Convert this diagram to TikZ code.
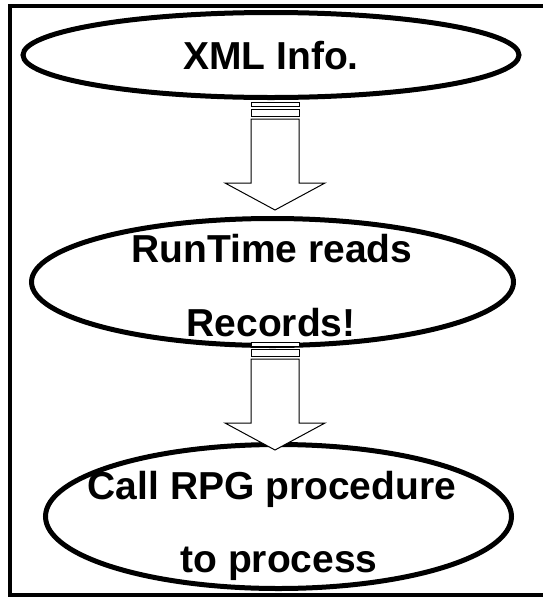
\documentclass[tikz,border=0pt]{standalone}
\usepackage{fontspec}
\setmainfont{Liberation Sans}
\usetikzlibrary{
  shapes.geometric,%
  positioning,%
  calc
}
\tikzset{>=latex}
\tikzset{
  proc/.style={draw, ellipse, line width=5pt, inner sep=0pt},
  lbl/.style={anchor=base, inner sep=0pt,
    font=\fontsize{39}{47}\selectfont\bfseries},
  blockarrow/.style={draw, fill=white, line width=1pt, line join=miter},
}

\begin{document}
\begin{tikzpicture}[x=1pt, y=-1pt]
    \useasboundingbox (0,0) rectangle (542,598);
    % frame, open on the right
    \draw[line width=4pt] (560,6) -- (10,6) -- (10,594.5) -- (560,594.5);
    \node[proc, minimum width=496pt, minimum height=85pt] (xml) at (271,55) {};
    \node[proc, minimum width=482pt, minimum height=127pt] (run) at (272.5,282) {};
    \node[proc, minimum width=466pt, minimum height=144pt] (call) at (278.5,516.5) {};
    \node[lbl] (xmlA) at (271,69) {XML Info.};
    \node[lbl] (runA) at (272,262) {RunTime reads};
    \node[lbl] (runB) at (271,336) {Records!};
    \node[lbl] (callA) at (272,499) {Call RPG procedure};
    \node[lbl] (callB) at (279,572) {to process};
    \coordinate (arrA) at (275,102);
    \coordinate (arrB) at (275,342);
    \foreach \c in {arrA, arrB}
    {
      \begin{scope}[shift={(\c)}]
        \draw[blockarrow] (-24,0) rectangle (24,4);
        \draw[blockarrow] (-24,7) rectangle (24,14);
        \draw[blockarrow] (-24,17) -- (24,17) -- (24,81) -- (50,81) -- (0,108)
          -- (-50,81) -- (-24,81) -- cycle;
      \end{scope}
    }
\end{tikzpicture}
\end{document}
